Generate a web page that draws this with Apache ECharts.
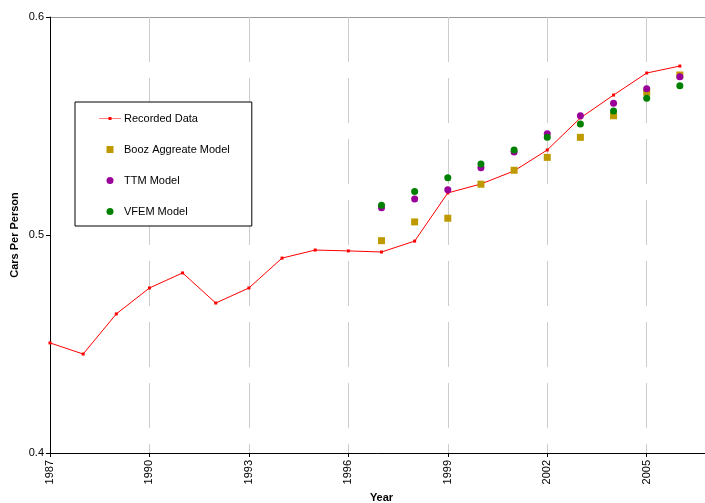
<!DOCTYPE html>
<html>
<head>
<meta charset="utf-8">
<script src="https://cdn.jsdelivr.net/npm/echarts@6/dist/echarts.min.js"></script>
<style>
  html, body { margin: 0; padding: 0; background: #fff; }
  #chart { width: 705px; height: 503px; }
</style>
</head>
<body>
<div id="chart"></div>
<script>
// Year categories along the x axis (axis runs past 2006 to the right edge)
const years = ['1987','1988','1989','1990','1991','1992','1993','1994','1995','1996',
               '1997','1998','1999','2000','2001','2002','2003','2004','2005','2006','2007'];

// Recorded cars per person, 1987-2006
const recordedYears = ['1987','1988','1989','1990','1991','1992','1993','1994','1995','1996',
                       '1997','1998','1999','2000','2001','2002','2003','2004','2005','2006'];
const recordedData = [0.4505, 0.4454, 0.4638, 0.4757, 0.4826, 0.4688, 0.4757, 0.4894, 0.4931, 0.4927,
                      0.4922, 0.4972, 0.5193, 0.5234, 0.5294, 0.5390, 0.5537, 0.5642, 0.5743, 0.5775];

// Model estimates, 1997-2006
const modelYears = ['1997','1998','1999','2000','2001','2002','2003','2004','2005','2006'];
const boozData = [0.4974, 0.5060, 0.5077, 0.5233, 0.5297, 0.5356, 0.5448, 0.5547, 0.5655, 0.5734];
const ttmData  = [0.5125, 0.5165, 0.5208, 0.5309, 0.5381, 0.5465, 0.5547, 0.5604, 0.5671, 0.5726];
const vfemData = [0.5136, 0.5199, 0.5263, 0.5326, 0.5390, 0.5448, 0.5509, 0.5569, 0.5627, 0.5685];

// Y axis tick values
const yTicks = [0.4, 0.5, 0.6];

const pair = (xs, vs) => xs.map((x, i) => [x, vs[i]]);

const FONT = 'Liberation Sans, Arial, sans-serif';

// Legend glyphs: a thin line with a small square marker, and a plain square
const LINE_ICON = 'path://M0,1.2h9.5v-1.2h3v1.2h9.5v0.6h-9.5v1.2h-3v-1.2h-9.5z';
const SQUARE_ICON = 'path://M0,0h1v1h-1z';

const chart = echarts.init(document.getElementById('chart'), null, { renderer: 'canvas' });

chart.setOption({
  animation: false,
  backgroundColor: '#ffffff',
  textStyle: { fontFamily: FONT },
  grid: { left: 50, top: 17, width: 663, height: 436, containLabel: false, outerBoundsMode: 'none' },
  legend: {
    orient: 'vertical',
    left: 75,
    top: 102,
    padding: [11, 22, 9, 24],
    itemWidth: 22,
    itemHeight: 7,
    itemGap: 20,
    symbolKeepAspect: true,
    borderColor: '#000000',
    borderWidth: 1,
    backgroundColor: '#ffffff',
    textStyle: { fontFamily: FONT, fontSize: 11, color: '#000000', padding: [0, 0, 0, -2] },
    data: [
      { name: 'Recorded Data', icon: LINE_ICON },
      { name: 'Booz Aggreate Model', icon: SQUARE_ICON },
      { name: 'TTM Model', icon: 'circle' },
      { name: 'VFEM Model', icon: 'circle' }
    ]
  },
  xAxis: {
    type: 'category',
    data: years,
    boundaryGap: false,
    name: 'Year',
    nameLocation: 'middle',
    nameGap: 39,
    nameTextStyle: { fontFamily: FONT, fontSize: 11, fontWeight: 'bold', color: '#000000' },
    axisLine: { lineStyle: { color: '#000000', width: 1 } },
    axisTick: { show: true, interval: 2, length: 4, lineStyle: { color: '#000000' } },
    axisLabel: {
      interval: 2, rotate: 90, margin: 7,
      fontFamily: FONT, fontSize: 11, color: '#000000'
    },
    splitLine: {
      show: true, interval: 2,
      lineStyle: { color: '#cccccc', width: 1, type: [45, 16] }
    }
  },
  yAxis: {
    type: 'value',
    min: yTicks[0],
    max: yTicks[yTicks.length - 1],
    interval: 0.1,
    name: 'Cars Per Person',
    nameLocation: 'middle',
    nameGap: 30,
    nameMoveOverlap: false,
    nameTextStyle: { fontFamily: FONT, fontSize: 11, fontWeight: 'bold', color: '#000000' },
    axisLine: { show: true, lineStyle: { color: '#000000', width: 1 } },
    axisTick: { show: true, length: 4, lineStyle: { color: '#000000' } },
    axisLabel: {
      margin: 6, fontFamily: FONT, fontSize: 11, color: '#000000',
      formatter: v => v.toFixed(1)
    },
    splitLine: {
      show: true,
      lineStyle: { color: ['rgba(0,0,0,0)', 'rgba(0,0,0,0)', '#9a9a9a'], width: 1 }
    }
  },
  series: [
    {
      name: 'Recorded Data',
      type: 'line',
      data: pair(recordedYears, recordedData),
      symbol: 'rect',
      symbolSize: 3,
      showAllSymbol: true,
      lineStyle: { color: '#ff0000', width: 1 },
      itemStyle: { color: '#ff0000' },
      z: 2
    },
    {
      name: 'Booz Aggreate Model',
      type: 'scatter',
      data: pair(modelYears, boozData),
      symbol: 'rect',
      symbolSize: 7,
      itemStyle: { color: '#bf9900', opacity: 1 },
      z: 3
    },
    {
      name: 'TTM Model',
      type: 'scatter',
      data: pair(modelYears, ttmData),
      symbol: 'circle',
      symbolSize: 7,
      itemStyle: { color: '#990099', opacity: 1 },
      z: 4
    },
    {
      name: 'VFEM Model',
      type: 'scatter',
      data: pair(modelYears, vfemData),
      symbol: 'circle',
      symbolSize: 7,
      itemStyle: { color: '#008000', opacity: 1 },
      z: 5
    }
  ]
});
</script>
</body>
</html>
